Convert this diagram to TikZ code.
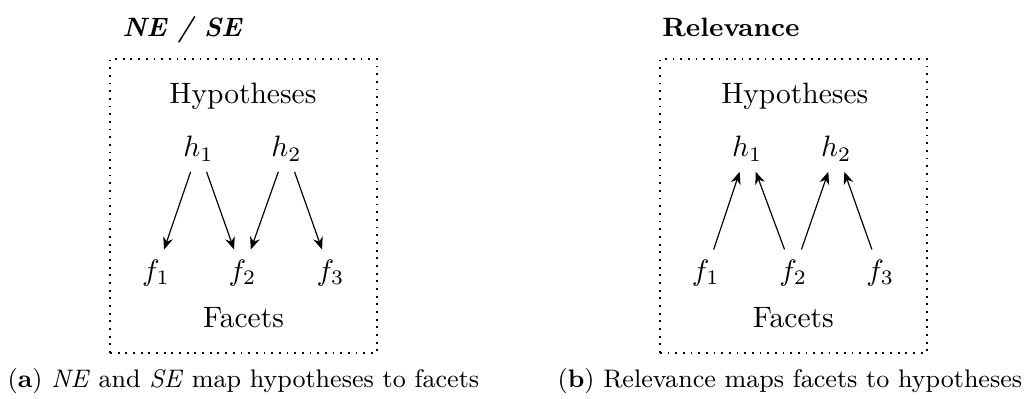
\documentclass[tikz,border=0pt]{standalone}
\usetikzlibrary{arrows.meta,positioning}

\begin{document}
\begin{tikzpicture}[>={Stealth[length=4.2pt,width=3.4pt]},
    frame/.style={semithick, dotted},
    heading/.style={anchor=base west, inner sep=0pt, font=\small\bfseries},
    caption/.style={anchor=base, inner sep=0pt, font=\fontsize{8.6}{10}\selectfont},
    var/.style={anchor=base}]
    \useasboundingbox (0,0) rectangle (12.27,4.752);

    % (a) hypotheses point down to facets
    \draw[frame] (1.31,0.548) rectangle (4.49,4.05);
    \node[heading] (titleA) at (1.453,4.32) {\itshape NE / SE};
    \node[var] (hypA) at (2.894,3.513) {Hypotheses};
    \node[var] (hA1) at (2.364,2.882) {$h_1$};
    \node[var] (hA2) at (3.412,2.882) {$h_2$};
    \node[var] (fA1) at (1.858,1.411) {$f_1$};
    \node[var] (fA2) at (2.888,1.411) {$f_2$};
    \node[var] (fA3) at (3.936,1.411) {$f_3$};
    \node[var] (facA) at (2.9,0.846) {Facets};
    \draw[->] (hA1) -- (fA1);
    \draw[->] (hA1) -- (fA2);
    \draw[->] (hA2) -- (fA2);
    \draw[->] (hA2) -- (fA3);
    \node[caption] (capA) at (2.9,0.131)
        {(\textbf{a}) \textit{NE} and \textit{SE} map hypotheses to facets};

    % (b) facets point up to hypotheses
    \begin{scope}[xshift=6.55cm]
        \draw[frame] (1.31,0.548) rectangle (4.49,4.05);
        \node[heading] (titleB) at (1.334,4.32) {Relevance};
        \node[var] (hypB) at (2.918,3.513) {Hypotheses};
        \node[var] (hB1) at (2.352,2.882) {$h_1$};
        \node[var] (hB2) at (3.412,2.882) {$h_2$};
        \node[var] (fB1) at (1.858,1.411) {$f_1$};
        \node[var] (fB2) at (2.9,1.411) {$f_2$};
        \node[var] (fB3) at (3.936,1.411) {$f_3$};
        \node[var] (facB) at (2.9,0.846) {Facets};
        \draw[->] (fB1) -- (hB1);
        \draw[->] (fB2) -- (hB1);
        \draw[->] (fB2) -- (hB2);
        \draw[->] (fB3) -- (hB2);
        \node[caption] (capB) at (2.86,0.131)
            {(\textbf{b}) Relevance maps facets to hypotheses};
    \end{scope}
\end{tikzpicture}
\end{document}
